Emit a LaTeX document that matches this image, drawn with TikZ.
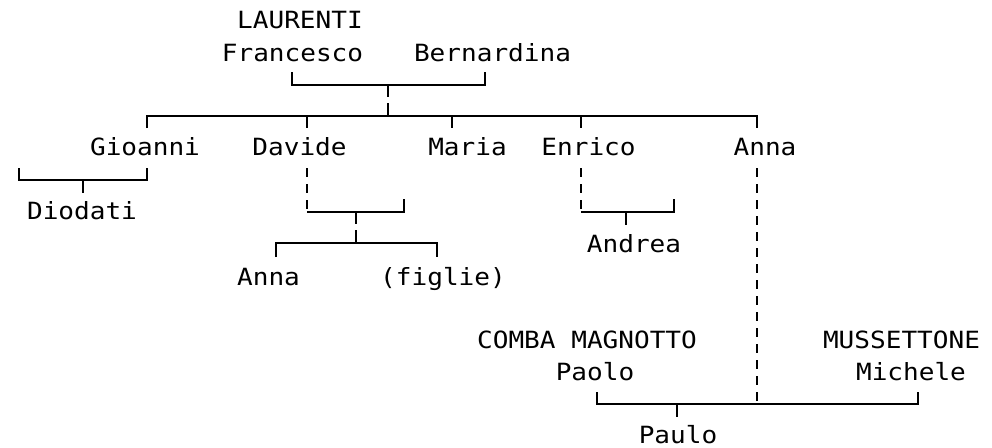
\documentclass[tikz,border=0pt]{standalone}
\usepackage{fontspec}
\newfontfamily\kinfont[FakeStretch=1.1]{DejaVu Sans Mono}
\usepackage{tikz}

\tikzset{
  person/.style={anchor=base, inner sep=0pt, font=\kinfont\fontsize{23.7}{28}\selectfont},
  kin/.style={line width=1.6pt},
  descent/.style={kin, dash pattern=on 9pt off 7pt},
  split/.style={kin, dash pattern=on 12pt off 6pt}
}

\begin{document}
\begin{tikzpicture}[x=1pt, y=-1pt]
    \useasboundingbox (0,0) rectangle (992,447);

    % people
    \node[person] (laurenti)   at (300,28)  {LAURENTI};
    \node[person] (francesco)  at (292.5,61) {Francesco};
    \node[person] (bernardina) at (492.5,61) {Bernardina};
    \node[person] (gioanni)    at (145,155) {Gioanni};
    \node[person] (davide)     at (299.5,155) {Davide};
    \node[person] (maria)      at (467.5,155) {Maria};
    \node[person] (enrico)     at (588.5,155) {Enrico};
    \node[person] (anna)       at (765,155) {Anna};
    \node[person] (diodati)    at (82,219)  {Diodati};
    \node[person] (andrea)     at (634,252) {Andrea};
    \node[person] (annaD)      at (268.5,285) {Anna};
    \node[person] (figlie)     at (443,285) {(figlie)};
    \node[person] (comba)      at (587,348) {COMBA MAGNOTTO};
    \node[person] (paolo)      at (595,380) {Paolo};
    \node[person] (mussettone) at (901.5,348) {MUSSETTONE};
    \node[person] (michele)    at (911,380) {Michele};
    \node[person] (paulo)      at (678,443) {Paulo};

    % junction points
    \coordinate (fr-up) at (292,72);
    \coordinate (be-up) at (485,72);
    \coordinate (fb-j)  at (388,85);
    \coordinate (kids)  at (388,116);
    \coordinate (gi-top) at (147,128);
    \coordinate (da-top) at (307,128);
    \coordinate (ma-top) at (452,128);
    \coordinate (en-top) at (581,128);
    \coordinate (an-top) at (757,128);
    \coordinate (gi-l)  at (19,168);
    \coordinate (gi-r)  at (147,168);
    \coordinate (gi-j)  at (83,180);
    \coordinate (di-top) at (83,193);
    \coordinate (da-dn) at (307,168);
    \coordinate (da-c)  at (307,212);
    \coordinate (da-r)  at (404,199);
    \coordinate (da-j)  at (356,212);
    \coordinate (da-k)  at (356,243);
    \coordinate (ad-top) at (276,257);
    \coordinate (fi-top) at (437,257);
    \coordinate (en-dn) at (581,168);
    \coordinate (en-c)  at (581,212);
    \coordinate (en-r)  at (674,199);
    \coordinate (en-j)  at (626,212);
    \coordinate (ar-top) at (626,225);
    \coordinate (an-dn) at (757,168);
    \coordinate (an-c)  at (757,404);
    \coordinate (pa-up) at (597,392);
    \coordinate (mi-up) at (918,392);
    \coordinate (pa-j)  at (677,404);
    \coordinate (pu-top) at (677,417);

    % LAURENTI couple and children
    \draw[kin] (fr-up) |- (fb-j) -| (be-up);
    \draw[split] (fb-j) -- (kids);
    \draw[kin] (gi-top) |- (kids) -| (an-top);
    \draw[kin] (da-top |- kids) -- (da-top);
    \draw[kin] (ma-top |- kids) -- (ma-top);
    \draw[kin] (en-top |- kids) -- (en-top);

    % Gioanni
    \draw[kin] (gi-l) |- (gi-j) -| (gi-r);
    \draw[kin] (gi-j) -- (di-top);

    % Davide
    \draw[descent] (da-dn) -- (da-c);
    \draw[kin] (da-c) -| (da-r);
    \draw[split] (da-j) -- (da-k);
    \draw[kin] (ad-top) |- (da-k) -| (fi-top);

    % Enrico
    \draw[descent] (en-dn) -- (en-c);
    \draw[kin] (en-c) -| (en-r);
    \draw[kin] (en-j) -- (ar-top);

    % Anna
    \draw[descent] (an-dn) -- (an-c);
    \draw[kin] (pa-up) |- (pa-j) -| (mi-up);
    \draw[kin] (pa-j) -- (pu-top);
\end{tikzpicture}
\end{document}
